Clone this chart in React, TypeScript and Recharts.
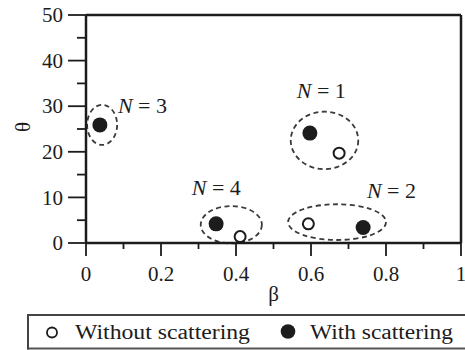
import React from 'react';
import { ScatterChart, Scatter, XAxis, YAxis, ReferenceArea, ReferenceLine, Legend } from 'recharts';

const seriesNames = ['Without scattering', 'With scattering'];
// beta (x) / theta (y) for each group N = 1..4
const withoutBeta = [0.675, 0.593, 0.037, 0.411];
const withoutTheta = [19.7, 4.2, 25.9, 1.4];
const withBeta = [0.597, 0.739, 0.037, 0.347];
const withTheta = [24.1, 3.4, 25.9, 4.2];

const groupNumbers = ['1', '2', '3', '4'];
const labelBeta = [0.562, 0.749, 0.085, 0.282];
const labelTheta = [31.8, 9.9, 28.5, 10.5];

const ellipseBeta1 = [0.546, 0.539, 0.003, 0.306];
const ellipseBeta2 = [0.726, 0.8, 0.083, 0.469];
const ellipseTheta1 = [16.2, 0.66, 21.5, -0.1];
const ellipseTheta2 = [28.8, 8.5, 30.3, 8.1];

const xMajorTicks = [0, 0.2, 0.4, 0.6, 0.8, 1];
const xMinorTicks = [0.1, 0.3, 0.5, 0.7, 0.9];
const yMajorTicks = [0, 10, 20, 30, 40, 50];
const yMinorTicks = [5, 15, 25, 35, 45];

const FONT = 'Liberation Serif, Times New Roman, serif';
const INK = '#1c1c1c';
const MINOR = 'minor';
const MAIN = 0;

const withoutData = withoutBeta.map((b, i) => ({ beta: b, theta: withoutTheta[i] }));
const withData = withBeta.map((b, i) => ({ beta: b, theta: withTheta[i] }));
const labelData = labelBeta.map((b, i) => ({ beta: b, theta: labelTheta[i], num: groupNumbers[i] }));

const fmtX = (v: number) => (v === 0 ? '0' : v === 1 ? '1' : v.toFixed(1));

const renderXTick = (props: any) => {
  const x = Number(props.x);
  const y = Number(props.y);
  const v = Number(props.payload.value);
  return (
    <text x={x} y={y + 25} textAnchor="middle" fontSize={21} fontFamily={FONT} fill={INK}>
      {fmtX(v)}
    </text>
  );
};

const renderYTick = (props: any) => {
  const x = Number(props.x);
  const y = Number(props.y);
  const v = Number(props.payload.value);
  return (
    <text x={x - 5} y={y} dy="0.34em" textAnchor="end" fontSize={21} fontFamily={FONT} fill={INK}>
      {v}
    </text>
  );
};

const renderNoLabel = () => <text />;
const NoShape = () => <g />;

const EllipseShape = (p: any) => (
  <ellipse
    cx={p.x + p.width / 2}
    cy={p.y + p.height / 2}
    rx={Math.abs(p.width) / 2}
    ry={Math.abs(p.height) / 2}
    fill="none"
    stroke="#3a3a3a"
    strokeWidth={1.8}
    strokeDasharray="5 3.5"
  />
);

const LabelShape = (p: any) => (
  <text x={p.cx} y={p.cy} fontSize={22} fontFamily={FONT} fill={INK}>
    <tspan fontStyle="italic">N</tspan>
    <tspan>{' = ' + p.payload.num}</tspan>
  </text>
);

const OpenDot = (p: any) => <circle cx={p.cx} cy={p.cy} r={5.5} fill="#fff" stroke={INK} strokeWidth={2} />;
const FilledDot = (p: any) => <circle cx={p.cx} cy={p.cy} r={7.5} fill={INK} />;

const LegendContent = () => (
  <svg width={438} height={36} style={{ display: 'block' }}>
    <line x1={0} x2={438} y1={1} y2={1} stroke="#444" strokeWidth={2} />
    <line x1={0} x2={438} y1={34.5} y2={34.5} stroke="#555" strokeWidth={2} />
    <line x1={1} x2={1} y1={0} y2={35.5} stroke="#444" strokeWidth={2} />
    <circle cx={25} cy={18.5} r={5} fill="#fff" stroke={INK} strokeWidth={1.8} />
    <text x={48} y={24.5} fontSize={20} fontFamily={FONT} fill={INK} textLength={175} lengthAdjust="spacingAndGlyphs">
      {seriesNames[0]}
    </text>
    <circle cx={261} cy={17.5} r={7.3} fill={INK} />
    <text x={283} y={24.5} fontSize={20} fontFamily={FONT} fill={INK} textLength={143} lengthAdjust="spacingAndGlyphs">
      {seriesNames[1]}
    </text>
  </svg>
);

export default function App() {
  return (
    <div style={{ position: 'absolute', left: 0, top: 0, background: '#fff', fontFamily: FONT }}>
      <ScatterChart width={465} height={350} margin={{ top: 15, right: 4, left: 0, bottom: 0 }}>
        <XAxis
          xAxisId={MAIN}
          dataKey="beta"
          type="number"
          domain={[0, 1]}
          ticks={xMajorTicks}
          interval={0}
          tickSize={13}
          tickMargin={0}
          tickLine={{ stroke: INK, strokeWidth: 1.8 }}
          tick={renderXTick}
          height={107}
          axisLine={{ stroke: INK, strokeWidth: 2.5 }}
          label={(lp: any) => {
            const vb = lp.viewBox || { x: 86, y: 243, width: 375 };
            return (
              <text x={vb.x + vb.width / 2} y={vb.y + 58} textAnchor="middle" fontSize={21} fontFamily={FONT} fill={INK}>
                β
              </text>
            );
          }}
        />
        <XAxis
          xAxisId={MINOR}
          type="number"
          dataKey="beta"
          domain={[0, 1]}
          ticks={xMinorTicks}
          interval={0}
          mirror
          tickSize={-6}
          tickMargin={0}
          tickLine={{ stroke: INK, strokeWidth: 1.8 }}
          axisLine={false}
          tick={renderNoLabel}
          height={30}
        />
        <YAxis
          yAxisId={MAIN}
          dataKey="theta"
          type="number"
          domain={[0, 50]}
          ticks={yMajorTicks}
          interval={0}
          tickSize={18}
          tickMargin={0}
          tickLine={{ stroke: INK, strokeWidth: 1.8 }}
          tick={renderYTick}
          width={86}
          axisLine={{ stroke: INK, strokeWidth: 2.5 }}
          label={(lp: any) => {
            const vb = lp.viewBox || { x: 0, y: 15, width: 86, height: 228 };
            const cx = 23;
            const cy = vb.y + vb.height / 2 - 2;
            return (
              <text
                x={cx}
                y={cy}
                dy="0.34em"
                textAnchor="middle"
                fontSize={21}
                fontFamily={FONT}
                fill={INK}
                transform={`rotate(-90 ${cx} ${cy})`}
              >
                θ
              </text>
            );
          }}
        />
        <YAxis
          yAxisId={MINOR}
          type="number"
          dataKey="theta"
          domain={[0, 50]}
          ticks={yMinorTicks}
          interval={0}
          mirror
          tickSize={-9}
          tickMargin={0}
          tickLine={{ stroke: INK, strokeWidth: 1.8 }}
          axisLine={false}
          tick={renderNoLabel}
          width={30}
        />
        <ReferenceLine xAxisId={MAIN} yAxisId={MAIN} y={50} stroke={INK} strokeWidth={2.5} />
        <ReferenceLine xAxisId={MAIN} yAxisId={MAIN} x={1} stroke={INK} strokeWidth={2.5} />
        {groupNumbers.map((g, i) => (
          <ReferenceArea
            key={g}
            xAxisId={MAIN}
            yAxisId={MAIN}
            x1={ellipseBeta1[i]}
            x2={ellipseBeta2[i]}
            y1={ellipseTheta1[i]}
            y2={ellipseTheta2[i]}
            ifOverflow="visible"
            shape={EllipseShape}
          />
        ))}
        <Scatter xAxisId={MINOR} yAxisId={MINOR} name="minor" data={withData} shape={NoShape} legendType="none" isAnimationActive={false} />
        <Scatter xAxisId={MAIN} yAxisId={MAIN} name={seriesNames[0]} data={withoutData} shape={OpenDot} isAnimationActive={false} />
        <Scatter xAxisId={MAIN} yAxisId={MAIN} name={seriesNames[1]} data={withData} shape={FilledDot} isAnimationActive={false} />
        <Scatter xAxisId={MAIN} yAxisId={MAIN} name="labels" data={labelData} shape={LabelShape} legendType="none" isAnimationActive={false} />
        <Legend
          verticalAlign="middle"
          layout="horizontal"
          align="center"
          wrapperStyle={{ position: 'absolute', left: 27, top: 314, width: 438, height: 36 }}
          content={LegendContent}
        />
      </ScatterChart>
    </div>
  );
}
